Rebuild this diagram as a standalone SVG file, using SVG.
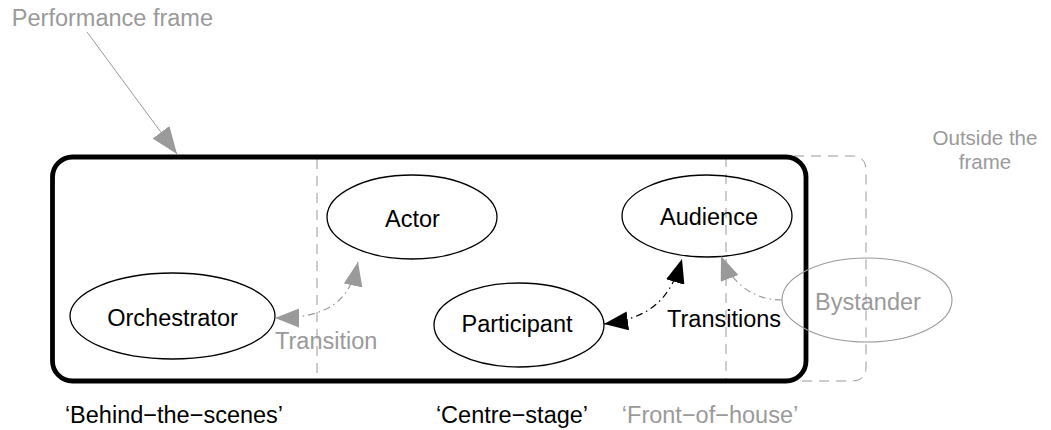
<svg xmlns="http://www.w3.org/2000/svg" width="1051" height="430" viewBox="0 0 1051 430">
<style>
text{font-family:"Liberation Sans",Arial,sans-serif;font-size:23.5px;fill:#000}
.g{fill:#9a9a9a}
.mid{text-anchor:middle}
.sm{font-size:20.5px}
.node{fill:none;stroke:#000;stroke-width:1.3}
.gnode{fill:none;stroke:#9a9a9a;stroke-width:1.1}
.dash{fill:none;stroke:#9a9a9a;stroke-width:1;stroke-dasharray:10 7}
.dd{fill:none;stroke-width:1.2;stroke-dasharray:7 4 1.5 4}
</style>
<defs>
<marker id="ag" viewBox="0 0 24 19" refX="24" refY="9.5" markerWidth="24" markerHeight="19" markerUnits="userSpaceOnUse" orient="auto-start-reverse"><path d="M0,0 L24,9.5 L0,19 z" fill="#9a9a9a"/></marker>
<marker id="ab" viewBox="0 0 24 19" refX="24" refY="9.5" markerWidth="24" markerHeight="19" markerUnits="userSpaceOnUse" orient="auto-start-reverse"><path d="M0,0 L24,9.5 L0,19 z" fill="#000"/></marker>
<marker id="af" viewBox="0 0 27 21" refX="27" refY="10.5" markerWidth="27" markerHeight="21" markerUnits="userSpaceOnUse" orient="auto"><path d="M0,0 L27,10.5 L0,21 z" fill="#9a9a9a"/></marker>
</defs>
<g id="frames">
<line class="dash" x1="317" y1="159" x2="317" y2="381"/>
<line class="dash" x1="726" y1="157" x2="726" y2="381"/>
<path class="dash" d="M726,156 H852 Q866,156 866,170 V367 Q866,381 852,381 H726"/>
<rect x="52.5" y="157" width="753.5" height="224" rx="20" ry="20" fill="none" stroke="#000" stroke-width="4.8"/>
</g>
<g id="labels">
<text class="g" x="213" y="26" text-anchor="end">Performance frame</text>
<text class="g mid sm" x="985" y="145">Outside the</text>
<text class="g mid sm" x="985" y="169">frame</text>
<text class="mid" x="174" y="423">‘Behind−the−scenes’</text>
<text class="mid" x="512" y="423">‘Centre−stage’</text>
<text class="g mid" x="710" y="423">‘Front−of−house’</text>
</g>
<g id="orchestrator"><ellipse class="node" cx="172.5" cy="316" rx="102.5" ry="43"/><text class="mid" x="172.5" y="326">Orchestrator</text></g>
<g id="actor"><ellipse class="node" cx="412" cy="217" rx="85" ry="42"/><text class="mid" x="412.5" y="227">Actor</text></g>
<g id="audience"><ellipse class="node" cx="707" cy="216" rx="85" ry="41"/><text class="mid" x="709" y="225">Audience</text></g>
<g id="participant"><ellipse class="node" cx="519" cy="325" rx="85" ry="42"/><text class="mid" x="517" y="332">Participant</text></g>
<g id="bystander"><ellipse class="gnode" cx="867" cy="300" rx="85" ry="42"/><text class="g mid" x="868" y="310">Bystander</text></g>
<g id="connectors">
<line x1="87" y1="32" x2="177" y2="154" stroke="#9a9a9a" stroke-width="1" marker-end="url(#af)"/>
<path class="dd" stroke="#9a9a9a" d="M275,318 C330,318 350,300 358,262" marker-start="url(#ag)" marker-end="url(#ag)"/>
<path class="dd" stroke="#000" d="M604,324 C650,318 670,300 682,259" marker-start="url(#ab)" marker-end="url(#ab)"/>
<path class="dd" stroke="#9a9a9a" d="M782,300 C752,300 731,282 721,256" marker-end="url(#ag)"/>
<text class="g" x="275" y="349">Transition</text>
<text x="667" y="327">Transitions</text>
</g>
</svg>
